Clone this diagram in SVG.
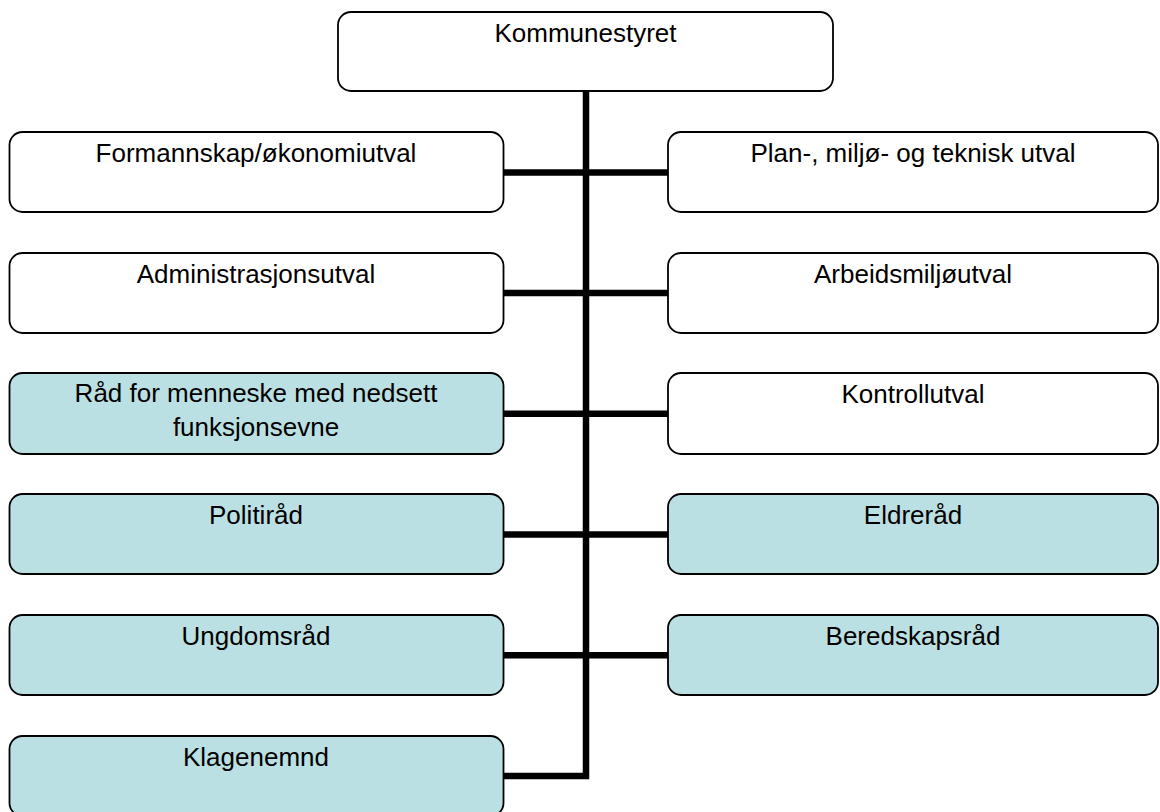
<svg xmlns="http://www.w3.org/2000/svg" width="1160" height="812" viewBox="0 0 1160 812">
<style>
.box{stroke:#000;stroke-width:1.8;fill:#fff}
.blue{fill:#BBE0E3}
.t{font-family:"Liberation Sans",Arial,sans-serif;font-size:26px;fill:#000;text-anchor:middle}
.c{stroke:#000;stroke-width:6.5;fill:none;stroke-linejoin:miter}
</style>
<rect width="1160" height="812" fill="#fff"/>
<g id="connectors">
<path class="c" d="M503 776 H586 V91"/>
<line class="c" x1="503" y1="172.5" x2="668" y2="172.5"/>
<line class="c" x1="503" y1="293" x2="668" y2="293"/>
<line class="c" x1="503" y1="413.7" x2="668" y2="413.7"/>
<line class="c" x1="503" y1="534.5" x2="668" y2="534.5"/>
<line class="c" x1="503" y1="655.3" x2="668" y2="655.3"/>
</g>
<g id="kommunestyret"><rect class="box" x="338" y="12" width="495" height="79" rx="13"/><text class="t" x="585.5" y="42">Kommunestyret</text></g>
<g id="formannskap"><rect class="box" x="9.5" y="132" width="494" height="80" rx="13"/><text class="t" x="256" y="162">Formannskap/økonomiutval</text></g>
<g id="plan"><rect class="box" x="668" y="132" width="490" height="80" rx="13"/><text class="t" x="913" y="162">Plan-, miljø- og teknisk utval</text></g>
<g id="administrasjonsutval"><rect class="box" x="9.5" y="253" width="494" height="80" rx="13"/><text class="t" x="256" y="283">Administrasjonsutval</text></g>
<g id="arbeidsmiljoutval"><rect class="box" x="668" y="253" width="490" height="80" rx="13"/><text class="t" x="913" y="283">Arbeidsmiljøutval</text></g>
<g id="rad-funksjonsevne"><rect class="box blue" x="9.5" y="373" width="494" height="81" rx="13"/><text class="t" x="256" y="402">Råd for menneske med nedsett</text><text class="t" x="256" y="435.5">funksjonsevne</text></g>
<g id="kontrollutval"><rect class="box" x="668" y="373" width="490" height="81" rx="13"/><text class="t" x="913" y="403">Kontrollutval</text></g>
<g id="politirad"><rect class="box blue" x="9.5" y="494" width="494" height="80" rx="13"/><text class="t" x="256" y="524">Politiråd</text></g>
<g id="eldrerad"><rect class="box blue" x="668" y="494" width="490" height="80" rx="13"/><text class="t" x="913" y="524">Eldreråd</text></g>
<g id="ungdomsrad"><rect class="box blue" x="9.5" y="615" width="494" height="80" rx="13"/><text class="t" x="256" y="645">Ungdomsråd</text></g>
<g id="beredskapsrad"><rect class="box blue" x="668" y="615" width="490" height="80" rx="13"/><text class="t" x="913" y="645">Beredskapsråd</text></g>
<g id="klagenemnd"><rect class="box blue" x="9.5" y="736" width="494" height="80" rx="13"/><text class="t" x="256" y="766">Klagenemnd</text></g>
</svg>
